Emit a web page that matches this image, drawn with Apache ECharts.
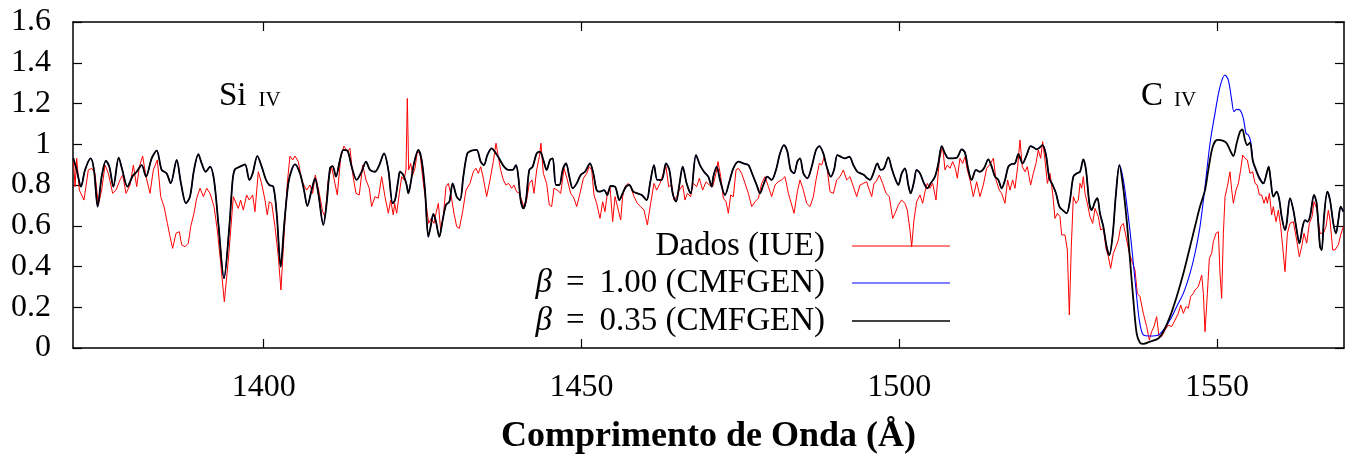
<!DOCTYPE html>
<html><head><meta charset="utf-8">
<script src="https://cdn.jsdelivr.net/npm/echarts@6/dist/echarts.min.js"></script>
<style>html,body{margin:0;padding:0;background:#fff}#c{width:1351px;height:460px}</style>
</head><body><div id="c"></div>
<script>
const xTicks = [1400, 1450, 1500, 1550];
const seriesNames = ['Dados (IUE)', 'β = 1.00 (CMFGEN)', 'β = 0.35 (CMFGEN)'];

// IUE observed spectrum [wavelength (Å), normalized flux]
const dataIUE = [[1370.05,0.931],[1370.32,0.792],[1370.58,0.931],[1371.00,0.775],[1371.73,0.726],[1372.41,0.874],[1372.94,0.882],[1373.46,0.857],[1373.99,0.702],[1374.51,0.775],[1375.04,0.898],[1375.56,0.857],[1376.24,0.759],[1376.77,0.775],[1377.40,0.825],[1377.82,0.849],[1378.34,0.759],[1378.97,0.800],[1379.50,0.898],[1380.02,0.792],[1380.44,0.890],[1380.96,0.942],[1381.49,0.841],[1382.12,0.759],[1382.64,0.874],[1383.27,0.923],[1383.80,0.743],[1384.32,0.694],[1384.85,0.612],[1385.27,0.546],[1385.68,0.489],[1386.21,0.563],[1386.73,0.571],[1387.10,0.506],[1387.63,0.497],[1388.15,0.514],[1388.52,0.596],[1389.04,0.661],[1389.46,0.735],[1389.99,0.784],[1390.51,0.743],[1391.04,0.784],[1391.56,0.759],[1392.19,0.694],[1392.71,0.579],[1393.24,0.416],[1393.81,0.227],[1394.44,0.432],
[1395.23,0.743],[1395.49,0.735],[1396.01,0.685],[1396.38,0.726],[1396.80,0.677],[1397.32,0.751],[1397.74,0.726],[1398.27,0.751],[1398.63,0.669],[1399.16,0.865],[1399.68,0.808],[1400.21,0.726],[1400.57,0.653],[1400.89,0.718],[1401.26,0.710],[1401.78,0.596],[1402.31,0.448],[1402.72,0.285],[1403.20,0.546],[1403.72,0.808],[1404.14,0.942],[1404.56,0.923],[1404.93,0.942],[1405.45,0.915],[1405.98,0.825],[1406.34,0.800],[1406.76,0.775],[1407.29,0.800],[1407.71,0.759],[1408.13,0.849],[1408.44,0.841],[1408.76,0.759],[1409.28,0.669],[1409.65,0.645],[1410.17,0.825],[1410.70,0.890],[1411.22,0.808],[1411.59,0.751],[1412.11,0.931],[1412.64,0.991],[1413.16,0.964],[1413.58,0.980],[1414.00,0.857],[1414.53,0.759],[1415.05,0.751],[1415.58,0.898],[1416.10,0.825],[1416.62,0.784],[1416.99,0.694],[1417.52,0.743],[1418.04,0.735],[1418.57,0.841],[1419.09,0.743],[1419.62,0.661],[1419.98,0.726],[1420.40,0.653],
[1420.61,0.710],[1420.93,0.661],[1421.35,0.759],[1421.72,0.841],[1422.08,0.825],[1422.40,0.874],[1422.61,1.225],[1422.82,0.874],[1423.13,0.906],[1423.45,0.849],[1423.81,0.882],[1424.18,0.964],[1424.60,0.955],[1425.13,0.808],[1425.55,0.710],[1425.96,0.612],[1426.38,0.636],[1426.80,0.612],[1427.12,0.661],[1427.49,0.710],[1427.85,0.579],[1428.27,0.645],[1428.69,0.792],[1429.06,0.808],[1429.48,0.751],[1429.95,0.661],[1430.37,0.596],[1430.79,0.587],[1431.31,0.669],[1431.84,0.775],[1432.47,0.808],[1432.99,0.865],[1433.41,0.882],[1433.78,0.857],[1434.15,0.890],[1434.57,0.833],[1435.09,0.743],[1435.62,0.825],[1436.14,0.915],[1436.56,1.005],[1436.93,0.939],[1437.29,0.874],[1437.71,0.825],[1438.13,0.800],[1438.55,0.808],[1439.02,0.784],[1439.39,0.800],[1439.81,0.767],[1440.23,0.759],[1440.60,0.726],[1441.02,0.685],[1441.38,0.726],[1441.80,0.808],[1442.22,0.825],[1442.54,0.759],[1442.96,0.874],[1443.38,0.939],[1443.64,1.005],[1444.01,0.857],[1444.53,0.808],[1444.95,0.702],[1445.32,0.694],[1445.69,0.784],
[1446.21,0.775],[1446.74,0.759],[1447.26,0.882],[1447.79,0.825],[1448.31,0.759],[1448.84,0.735],[1449.26,0.694],[1449.78,0.759],[1450.31,0.833],[1450.83,0.857],[1451.25,0.890],[1451.62,0.874],[1451.98,0.751],[1452.40,0.710],[1452.93,0.636],[1453.35,0.718],[1453.71,0.669],[1454.08,0.759],[1454.50,0.792],[1454.92,0.620],[1455.29,0.743],[1455.81,0.677],[1456.18,0.628],[1456.49,0.743],[1456.86,0.792],[1457.39,0.808],[1457.75,0.792],[1458.28,0.743],[1458.80,0.710],[1459.33,0.694],[1459.85,0.677],[1460.38,0.604],[1460.90,0.710],[1461.42,0.808],[1461.84,0.775],[1462.37,0.808],[1462.89,0.857],[1463.31,0.890],[1463.73,0.792],[1464.20,0.800],[1464.57,0.726],[1464.99,0.743],[1465.41,0.775],[1465.94,0.800],[1466.30,0.726],[1466.67,0.759],[1467.19,0.743],[1467.61,0.808],[1468.14,0.792],[1468.56,0.833],[1469.08,0.775],[1469.61,0.816],[1470.13,0.800],[1470.66,0.792],
[1471.18,0.857],[1471.50,0.915],[1471.92,0.841],[1472.34,0.735],[1472.76,0.718],[1473.12,0.661],[1473.49,0.751],[1473.91,0.743],[1474.33,0.874],[1474.70,0.882],[1475.22,0.857],[1475.75,0.808],[1476.27,0.759],[1476.80,0.694],[1477.32,0.718],[1477.85,0.735],[1478.37,0.808],[1478.89,0.841],[1479.42,0.792],[1479.94,0.743],[1480.47,0.800],[1480.99,0.816],[1481.52,0.825],[1482.04,0.841],[1482.57,0.759],[1483.09,0.702],[1483.46,0.661],[1483.98,0.767],[1484.40,0.825],[1484.93,0.775],[1485.45,0.710],[1485.98,0.694],[1486.50,0.743],[1486.92,0.825],[1487.44,0.906],[1487.81,0.898],[1488.23,0.939],[1488.70,0.874],[1489.12,0.767],[1489.65,0.759],[1490.17,0.825],[1490.70,0.841],[1491.22,0.874],[1491.74,0.825],[1492.27,0.841],[1492.79,0.792],[1493.32,0.743],[1493.84,0.800],[1494.37,0.808],[1494.89,0.816],[1495.31,0.775],[1495.68,0.743],[1496.04,0.808],
[1496.36,0.816],[1496.88,0.849],[1497.41,0.808],[1497.93,0.759],[1498.45,0.743],[1498.98,0.636],[1499.35,0.661],[1499.87,0.702],[1500.39,0.726],[1500.92,0.710],[1501.28,0.677],[1501.70,0.579],[1501.97,0.497],[1502.33,0.628],[1502.75,0.718],[1503.28,0.751],[1503.70,0.710],[1504.06,0.767],[1504.43,0.808],[1504.85,0.784],[1505.27,0.808],[1505.80,0.726],[1506.32,0.923],[1506.84,0.991],[1507.21,0.874],[1507.58,0.898],[1508.00,0.882],[1508.42,0.915],[1508.84,0.882],[1509.15,0.833],[1509.57,0.931],[1510.00,0.906],[1510.36,0.939],[1510.73,0.874],[1511.15,0.825],[1511.67,0.743],[1512.20,0.816],[1512.72,0.743],[1513.24,0.800],[1513.77,0.882],[1514.40,0.906],[1514.82,0.931],[1515.24,0.825],[1515.76,0.775],[1516.13,0.759],[1516.65,0.710],[1517.07,0.825],[1517.44,0.775],[1517.86,0.825],[1518.23,0.784],[1518.65,0.890],[1519.01,1.021],[1519.38,0.890],[1519.80,0.865],[1520.17,0.890],[1520.69,0.800],[1521.11,0.857],
[1521.53,0.906],[1521.90,0.972],[1522.27,0.931],[1522.58,1.013],[1522.95,0.923],[1523.32,0.808],[1523.74,0.857],[1524.16,0.759],[1524.52,0.636],[1524.89,0.661],[1525.31,0.645],[1525.57,0.555],[1526.10,0.555],[1526.46,0.481],[1526.78,0.162],[1527.09,0.497],[1527.41,0.743],[1527.83,0.710],[1528.20,0.726],[1528.46,0.808],[1528.72,0.784],[1528.98,0.841],[1529.25,0.759],[1529.61,0.710],[1530.03,0.645],[1530.45,0.612],[1530.82,0.685],[1531.34,0.645],[1531.71,0.579],[1532.13,0.587],[1532.55,0.489],[1532.92,0.448],[1533.28,0.391],[1533.70,0.465],[1534.12,0.497],[1534.49,0.530],[1534.86,0.596],[1535.28,0.612],[1535.80,0.530],[1536.22,0.465],[1536.74,0.416],[1537.11,0.383],[1537.48,0.268],[1537.90,0.252],[1538.42,0.170],[1538.95,0.105],[1539.37,0.039],[1539.73,0.080],[1540.10,0.105],[1540.52,0.154],[1540.89,0.056],[1541.31,0.056],[1541.83,0.088],[1542.36,0.113],[1542.88,0.105],[1543.41,0.137],[1543.93,0.170],[1544.30,0.211],[1544.72,0.170],[1545.14,0.203],[1545.50,0.195],[1545.87,0.252],[1546.29,0.268],
[1546.56,0.285],[1547.08,0.301],[1547.61,0.358],[1547.87,0.268],[1548.13,0.080],[1548.50,0.268],[1548.81,0.440],[1549.18,0.465],[1549.44,0.522],[1549.86,0.563],[1550.23,0.571],[1550.49,0.366],[1550.75,0.244],[1551.02,0.563],[1551.28,0.743],[1551.64,0.792],[1552.06,0.865],[1552.33,0.775],[1552.59,0.710],[1553.01,0.775],[1553.38,0.808],[1553.74,0.874],[1554.06,0.947],[1554.42,0.931],[1554.79,0.923],[1555.21,0.857],[1555.63,0.865],[1556.00,0.808],[1556.36,0.800],[1556.68,0.751],[1557.05,0.751],[1557.41,0.710],[1557.73,0.743],[1557.94,0.710],[1558.25,0.759],[1558.62,0.653],[1558.88,0.694],[1559.30,0.620],[1559.67,0.677],[1560.04,0.596],[1560.35,0.497],[1560.72,0.375],[1561.09,0.563],[1561.50,0.612],[1562.03,0.620],[1562.55,0.530],[1562.97,0.448],[1563.34,0.497],[1563.71,0.563],[1564.13,0.514],[1564.55,0.612],[1564.97,0.645],[1565.28,0.718],[1565.70,0.685],[1566.23,0.563],[1566.75,0.563],[1567.17,0.596],[1567.54,0.677],[1567.80,0.628],[1568.22,0.481],[1568.58,0.481],[1569.11,0.506],[1569.48,0.555],[1569.90,0.596]];

// CMFGEN model, beta = 0.35
const modelBeta035 = [[1370.05,0.931],[1370.58,0.874],[1371.26,0.792],[1371.89,0.874],[1372.78,0.931],[1373.30,0.874],[1373.88,0.694],[1374.51,0.841],[1375.19,0.919],[1375.72,0.890],[1376.35,0.792],[1377.19,0.934],[1377.76,0.874],[1378.55,0.792],[1379.39,0.844],[1380.02,0.865],[1380.81,0.898],[1381.49,0.841],[1382.38,0.931],[1383.17,0.969],[1383.95,0.874],[1384.74,0.857],[1385.37,0.808],[1386.31,0.923],[1386.99,0.808],[1387.78,0.710],[1388.41,0.743],[1389.04,0.874],[1389.72,0.951],[1390.25,0.906],[1390.88,0.865],[1391.56,0.890],[1392.19,0.825],[1392.87,0.612],[1393.76,0.342],[1394.60,0.596],
[1395.12,0.825],[1395.49,0.877],[1396.28,0.890],[1397.06,0.901],[1397.75,0.825],[1398.27,0.857],[1399.01,0.942],[1399.69,0.890],[1400.37,0.825],[1400.89,0.800],[1401.52,0.792],[1402.05,0.661],[1402.68,0.399],[1403.25,0.612],[1403.88,0.808],[1404.41,0.874],[1404.93,0.901],[1405.72,0.857],[1406.35,0.775],[1406.87,0.697],[1407.55,0.775],[1408.08,0.833],[1408.60,0.759],[1409.39,0.604],[1409.91,0.710],[1410.44,0.882],[1410.86,0.893],[1411.38,0.841],[1412.01,0.923],[1412.54,0.972],[1413.17,0.969],[1413.85,0.890],[1414.63,0.825],[1415.42,0.865],[1416.10,0.915],[1416.73,0.874],[1417.52,0.865],[1418.20,0.898],[1418.94,0.955],[1419.62,0.874],[1420.30,0.710],
[1420.67,0.726],[1421.19,0.825],[1421.45,0.865],[1421.98,0.849],[1422.50,0.800],[1422.77,0.759],[1423.13,0.808],[1423.66,0.906],[1424.34,0.972],[1424.86,0.923],[1425.39,0.775],[1425.91,0.546],[1426.28,0.596],[1426.70,0.658],[1427.12,0.620],[1427.64,0.546],[1428.17,0.628],[1428.69,0.702],[1429.22,0.718],[1429.74,0.808],[1430.37,0.743],[1430.90,0.726],[1431.42,0.841],[1432.05,0.955],[1432.73,0.969],[1433.52,0.972],[1434.15,0.915],[1434.67,0.898],[1435.20,0.947],[1435.88,0.980],[1436.56,0.955],[1437.19,0.923],[1437.82,0.890],[1438.50,0.874],[1439.18,0.874],[1439.71,0.898],[1440.07,0.841],[1440.44,0.726],[1440.86,0.685],[1441.28,0.726],[1441.80,0.874],[1442.33,0.890],[1442.96,0.955],[1443.48,0.964],[1444.01,0.923],[1444.53,0.874],[1445.06,0.923],[1445.48,0.931],
[1446.00,0.800],[1446.53,0.800],[1447.05,0.874],[1447.58,0.906],[1448.10,0.841],[1448.63,0.784],[1449.26,0.808],[1449.89,0.849],[1450.57,0.865],[1451.35,0.906],[1451.88,0.857],[1452.40,0.775],[1452.93,0.767],[1453.56,0.775],[1454.08,0.751],[1454.61,0.795],[1455.29,0.792],[1455.97,0.726],[1456.49,0.759],[1457.02,0.792],[1457.54,0.800],[1458.17,0.767],[1458.80,0.759],[1459.48,0.751],[1460.27,0.726],[1460.80,0.808],[1461.42,0.898],[1461.95,0.825],[1462.63,0.825],[1463.31,0.906],[1463.84,0.874],[1464.36,0.759],[1464.89,0.718],[1465.41,0.800],[1465.94,0.890],[1466.56,0.808],[1467.19,0.759],[1468.03,0.947],[1468.66,0.898],[1469.29,0.865],[1469.97,0.841],[1470.50,0.792],
[1470.76,0.841],[1471.29,0.890],[1471.81,0.825],[1472.60,0.751],[1473.28,0.816],[1473.91,0.882],[1474.70,0.915],[1475.49,0.906],[1476.27,0.898],[1476.95,0.849],[1477.58,0.800],[1478.11,0.759],[1478.63,0.800],[1479.26,0.841],[1479.94,0.825],[1480.62,0.874],[1481.25,0.955],[1481.88,0.996],[1482.41,0.964],[1482.93,0.874],[1483.46,0.857],[1483.98,0.915],[1484.40,0.931],[1484.93,0.857],[1485.56,0.833],[1486.24,0.890],[1486.92,0.972],[1487.44,0.991],[1488.07,0.955],[1488.60,0.890],[1489.23,0.841],[1489.75,0.874],[1490.28,0.947],[1490.80,0.939],[1491.48,0.931],[1492.16,0.939],[1492.79,0.898],[1493.42,0.865],[1493.95,0.857],[1494.47,0.849],[1495.00,0.833],
[1495.41,0.825],[1495.94,0.857],[1496.57,0.906],[1497.09,0.874],[1497.62,0.882],[1498.30,0.936],[1498.82,0.882],[1499.35,0.833],[1499.87,0.800],[1500.40,0.857],[1500.92,0.882],[1501.44,0.800],[1501.81,0.759],[1502.34,0.816],[1502.75,0.874],[1503.28,0.857],[1503.91,0.808],[1504.43,0.784],[1504.96,0.808],[1505.64,0.841],[1506.17,0.906],[1506.69,0.991],[1507.21,0.955],[1507.74,0.931],[1508.42,0.931],[1509.15,0.936],[1509.84,0.975],[1510.36,0.959],[1510.89,0.874],[1511.41,0.825],[1512.09,0.874],[1512.72,0.865],[1513.35,0.882],[1514.03,0.926],[1514.56,0.890],[1515.08,0.841],[1515.61,0.825],[1516.13,0.784],[1516.66,0.825],[1517.18,0.890],[1517.70,0.903],[1518.23,0.906],[1518.75,0.952],[1519.43,0.906],[1520.06,0.947],[1520.69,0.991],
[1521.11,0.985],[1521.64,0.975],[1522.16,0.985],[1522.58,0.996],[1523.11,0.947],[1523.63,0.833],[1524.16,0.800],[1524.68,0.759],[1525.21,0.694],[1525.73,0.677],[1526.36,0.661],[1526.88,0.726],[1527.41,0.841],[1527.93,0.857],[1528.46,0.865],[1528.98,0.926],[1529.40,0.874],[1529.93,0.710],[1530.29,0.677],[1530.82,0.718],[1531.19,0.735],[1531.60,0.661],[1532.13,0.596],[1532.65,0.497],[1533.07,0.456],[1533.60,0.555],[1534.12,0.759],[1534.65,0.898],[1535.17,0.808],[1535.80,0.628],[1536.33,0.432],[1536.85,0.236],[1537.37,0.072],[1537.90,0.026],[1538.42,0.020],[1539.47,0.031],[1540.78,0.047],[1541.57,0.080],[1542.62,0.154],[1543.67,0.252],[1544.72,0.366],[1545.77,0.497],[1546.55,0.596],
[1547.34,0.694],[1548.13,0.775],[1548.65,0.874],[1549.34,0.988],[1550.07,1.021],[1550.91,1.018],[1551.54,1.005],[1552.17,0.964],[1552.59,0.942],[1553.11,1.005],[1553.64,1.062],[1554.00,1.073],[1554.42,1.021],[1554.79,0.996],[1555.21,1.008],[1555.63,0.923],[1556.16,0.874],[1556.68,0.833],[1557.31,0.808],[1557.83,0.857],[1558.15,0.890],[1558.46,0.825],[1558.88,0.743],[1559.41,0.767],[1559.83,0.726],[1560.19,0.645],[1560.72,0.579],[1560.98,0.612],[1561.50,0.735],[1562.03,0.677],[1562.55,0.579],[1562.97,0.514],[1563.50,0.596],[1563.86,0.628],[1564.23,0.620],[1564.65,0.645],[1565.28,0.751],[1565.70,0.710],[1566.23,0.497],[1566.49,0.481],[1566.86,0.645],[1567.38,0.767],[1567.80,0.726],[1568.32,0.612],[1568.74,0.563],[1569.11,0.628],[1569.48,0.694],[1569.90,0.669]];

// CMFGEN model, beta = 1.00: identical to beta = 0.35 outside the C IV profile; C IV part read separately
const beta100CIV = [[1535.28,0.825],[1536.06,0.645],[1536.59,0.497],[1537.27,0.285],[1537.79,0.137],[1538.42,0.064],[1539.47,0.059],[1540.78,0.064],[1541.57,0.088],[1542.62,0.137],[1543.67,0.203],[1544.72,0.268],[1545.77,0.366],[1546.55,0.465],[1547.34,0.596],[1548.13,0.792],[1548.92,1.005],[1549.70,1.152],[1550.49,1.283],[1551.28,1.340],[1551.80,1.315],[1552.33,1.217],[1552.69,1.160],[1553.11,1.171],[1553.64,1.168],[1554.16,1.127],[1554.58,1.054],[1554.95,1.045],[1555.32,1.013],[1555.74,0.906],[1556.26,0.865],[1556.78,0.833]];
const civStart = 1534.65, civEnd = 1557.31;
const modelBeta100 = modelBeta035.filter(p => p[0] <= civStart)
  .concat(beta100CIV, modelBeta035.filter(p => p[0] >= civEnd));

const FONT = '"Liberation Serif", "Times New Roman", serif';
const chart = echarts.init(document.getElementById('c'), null, {renderer: 'canvas'});

function legendFor(name, top, lineH) {
  return {
    data: [name], right: 401, top: top, orient: 'horizontal', align: 'right',
    icon: 'rect', itemWidth: 98, itemHeight: lineH, padding: 0, selectedMode: false,
    formatter: n => n.replace('β = ', '{b|β}{e|=}'),
    textStyle: {
      fontFamily: FONT, fontSize: 33, color: '#000', lineHeight: 36, padding: [0, 22, 0, 0],
      rich: {
        b: { fontFamily: FONT, fontSize: 33, fontStyle: 'italic', color: '#000', lineHeight: 36 },
        e: { fontFamily: FONT, fontSize: 33, color: '#000', lineHeight: 36, padding: [0, 15, 0, 14] }
      }
    }
  };
}

const axisLine = { show: true, onZero: false, lineStyle: { color: '#000', width: 1.5 } };
const tickStyle = { color: '#000', width: 1.2 };
const capText = (big, small) => ({
  text: '{a|' + big + '}{b|IV}',
  rich: {
    a: { fontFamily: FONT, fontSize: 33, fill: '#000', verticalAlign: 'bottom', lineHeight: 34 },
    b: { fontFamily: FONT, fontSize: 21, fill: '#000', verticalAlign: 'bottom', lineHeight: 34, padding: [0, 0, 2, small] }
  }
});

const option = {
  animation: false,
  backgroundColor: '#fff',
  grid: { left: 73, right: 7, top: 22, bottom: 112 },
  xAxis: [{
    type: 'value', min: 1370, max: 1570, position: 'bottom',
    axisLine: axisLine,
    axisTick: { show: true, inside: true, length: 9, customValues: xTicks, lineStyle: tickStyle },
    axisLabel: { customValues: xTicks, formatter: v => String(v), margin: 24, fontFamily: FONT, fontSize: 32, color: '#000' },
    splitLine: { show: false },
    name: 'Comprimento de Onda (Å)', nameLocation: 'middle', nameGap: 71,
    nameTextStyle: { fontFamily: FONT, fontSize: 36, fontWeight: 'bold', color: '#000' }
  }, {
    type: 'value', min: 1370, max: 1570, position: 'top',
    axisLine: axisLine,
    axisTick: { show: true, inside: true, length: 9, customValues: xTicks, lineStyle: tickStyle },
    axisLabel: { show: false }, splitLine: { show: false }
  }],
  yAxis: [{
    type: 'value', min: 0, max: 1.6, interval: 0.2, position: 'left',
    axisLine: axisLine,
    axisTick: { show: true, inside: true, length: 9, lineStyle: tickStyle },
    axisLabel: { margin: 22, fontFamily: FONT, fontSize: 32, color: '#000' },
    splitLine: { show: false }
  }, {
    type: 'value', min: 0, max: 1.6, interval: 0.2, position: 'right',
    axisLine: axisLine,
    axisTick: { show: true, inside: true, length: 9, lineStyle: tickStyle },
    axisLabel: { show: false }, splitLine: { show: false }
  }],
  legend: [legendFor(seriesNames[0], 228, 1.2), legendFor(seriesNames[1], 265, 1.2), legendFor(seriesNames[2], 303, 1.5)],
  graphic: [
    { type: 'text', left: 219, top: 80, silent: true, style: capText('Si', 12) },
    { type: 'text', left: 1141, top: 80, silent: true, style: capText('C', 11) }
  ],
  series: [
    { name: seriesNames[0], type: 'line', data: dataIUE, symbol: 'none', silent: true,
      lineStyle: { color: '#ff0000', width: 1 }, itemStyle: { color: '#ff0000' }, z: 2 },
    { name: seriesNames[1], type: 'line', data: modelBeta100, symbol: 'none', silent: true, smooth: 0.3,
      lineStyle: { color: '#0000ff', width: 1.1 }, itemStyle: { color: '#0000ff' }, z: 3 },
    { name: seriesNames[2], type: 'line', data: modelBeta035, symbol: 'none', silent: true, smooth: 0.3,
      lineStyle: { color: '#000000', width: 1.8 }, itemStyle: { color: '#000000' }, z: 4 }
  ]
};
chart.setOption(option);
</script></body></html>
